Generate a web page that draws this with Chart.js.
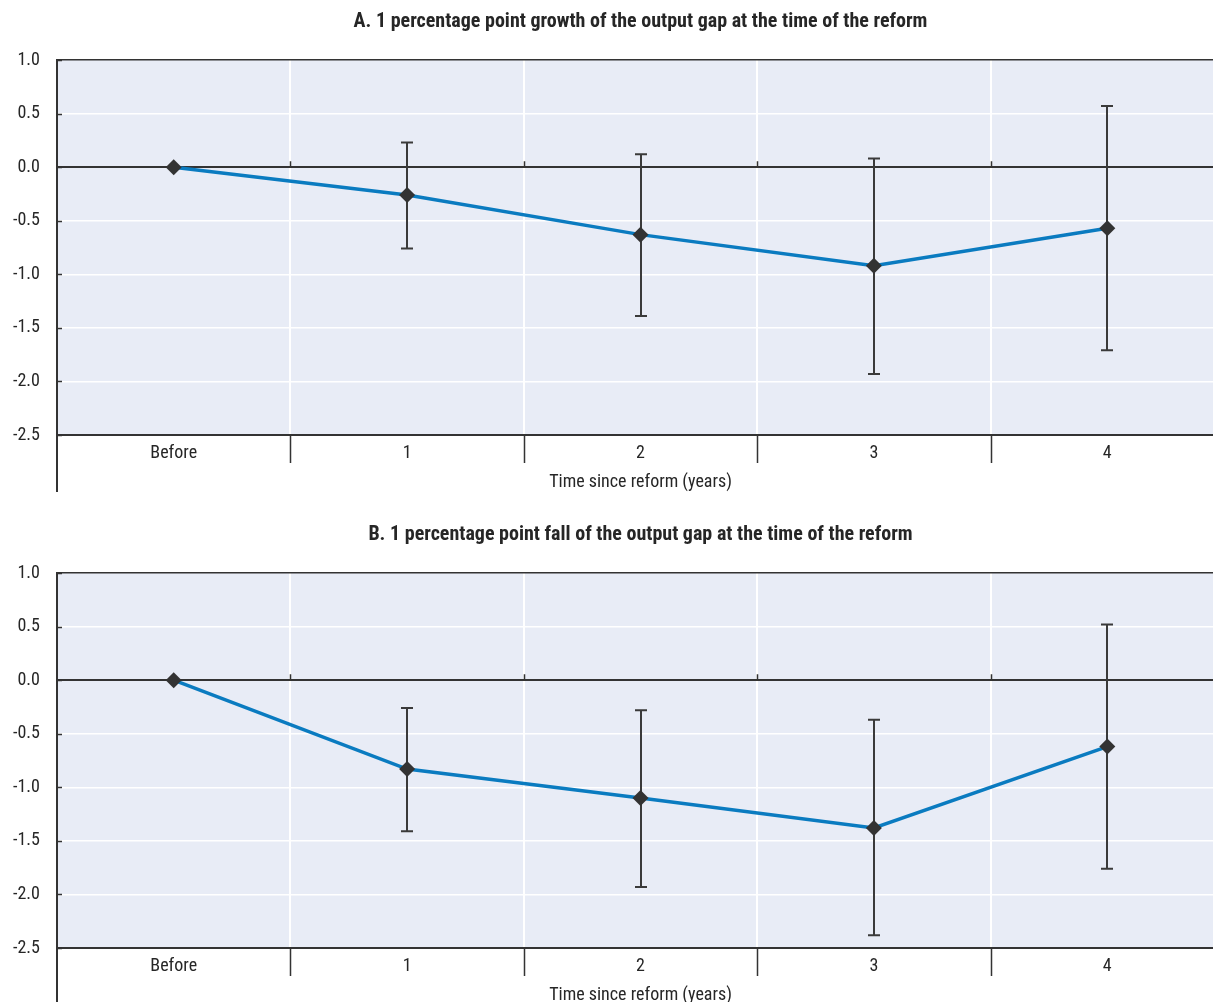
<!DOCTYPE html>
<html>
<head>
<meta charset="utf-8">
<title>Output gap response after reform</title>
<script src="https://cdn.jsdelivr.net/npm/chart.js@4/dist/chart.umd.min.js"></script>
<style>
  html, body { margin: 0; padding: 0; background: #ffffff; overflow: hidden; width: 1213px; height: 1002px; }
  canvas { position: absolute; left: 0; }
  #panelA { top: 0; }
  #panelB { top: 513px; }
</style>
</head>
<body>
<canvas id="panelA" width="1232" height="513"></canvas>
<canvas id="panelB" width="1232" height="513"></canvas>
<script>
// Horizon categories
const categories = ['Before', '1', '2', '3', '4'];
const yTickValues = [1.0, 0.5, 0.0, -0.5, -1.0, -1.5, -2.0, -2.5];
const axisTitle = 'Time since reform (years)';

// Panel A: growth of the output gap
const titleA = 'A. 1 percentage point growth of the output gap at the time of the reform';
const growthEstimate = [0.0, -0.26, -0.63, -0.92, -0.57];
const growthUpper    = [null, 0.23, 0.12, 0.08, 0.57];
const growthLower    = [null, -0.76, -1.39, -1.93, -1.71];

// Panel B: fall of the output gap
const titleB = 'B. 1 percentage point fall of the output gap at the time of the reform';
const fallEstimate = [0.0, -0.83, -1.10, -1.38, -0.62];
const fallUpper    = [null, -0.26, -0.28, -0.37, 0.52];
const fallLower    = [null, -1.41, -1.93, -2.38, -1.76];

const FONT = "'Roboto Condensed', 'DejaVu Sans Condensed', sans-serif";
const INK = '#333333';
const TEXT = '#262626';
const PLOT_BG = '#E8ECF6';
const LINE_BLUE = '#0A7BC0';

// Background, error bars, and the axis furniture Chart.js does not draw itself
const panelDecor = {
  id: 'panelDecor',
  beforeDraw(chart) {
    const { ctx, chartArea: a } = chart;
    ctx.save();
    ctx.fillStyle = PLOT_BG;
    ctx.fillRect(a.left, a.top, a.right - a.left, a.bottom - a.top);
    ctx.restore();
  },
  beforeDatasetsDraw(chart, args, opts) {
    const { ctx, chartArea: a } = chart;
    const xs = chart.scales.x, ys = chart.scales.y;
    const y0 = ys.getPixelForValue(0);
    ctx.save();
    ctx.strokeStyle = INK;
    ctx.lineCap = 'butt';

    // category separators below the axis and short ticks above the zero line
    ctx.lineWidth = 1.5;
    for (let i = 1; i < categories.length; i++) {
      const bx = Math.round(xs.getPixelForValue(i - 0.5)) + 0.5;
      ctx.beginPath();
      ctx.moveTo(bx, a.bottom);
      ctx.lineTo(bx, a.bottom + 28);
      ctx.moveTo(bx, y0 - 6);
      ctx.lineTo(bx, y0);
      ctx.stroke();
    }
    // left frame line continues down past the category labels
    ctx.lineWidth = 2;
    ctx.beginPath();
    ctx.moveTo(a.left, a.top);
    ctx.lineTo(a.left, a.bottom + 57);
    ctx.stroke();
    // small inside ticks on the value axis
    ctx.lineWidth = 1.5;
    yTickValues.forEach(v => {
      const py = Math.round(ys.getPixelForValue(v)) + 0.5;
      ctx.beginPath();
      ctx.moveTo(a.left, py);
      ctx.lineTo(a.left + 5, py);
      ctx.stroke();
    });

    // confidence intervals
    ctx.lineWidth = 2;
    ctx.strokeStyle = '#3A3A3A';
    opts.upper.forEach((hi, i) => {
      const lo = opts.lower[i];
      if (hi === null || lo === null) return;
      const px = Math.round(xs.getPixelForValue(i));
      const pTop = ys.getPixelForValue(hi);
      const pBot = ys.getPixelForValue(lo);
      ctx.beginPath();
      ctx.moveTo(px, pTop);
      ctx.lineTo(px, pBot);
      ctx.moveTo(px - 6, pTop);
      ctx.lineTo(px + 6, pTop);
      ctx.moveTo(px - 6, pBot);
      ctx.lineTo(px + 6, pBot);
      ctx.stroke();
    });
    ctx.restore();
  }
};

function buildPanel(canvasId, title, estimate, upper, lower) {
  return new Chart(document.getElementById(canvasId), {
    type: 'line',
    data: {
      labels: categories,
      datasets: [{
        data: estimate,
        borderColor: LINE_BLUE,
        borderWidth: 3.5,
        tension: 0,
        pointStyle: 'rectRot',
        pointRadius: 8,
        pointHoverRadius: 8,
        pointBackgroundColor: INK,
        pointBorderColor: INK,
        pointBorderWidth: 0
      }]
    },
    plugins: [panelDecor],
    options: {
      responsive: false,
      animation: false,
      devicePixelRatio: 1,
      layout: { padding: 0 },
      plugins: {
        legend: { display: false },
        tooltip: { enabled: false },
        title: {
          display: true,
          text: title,
          fullSize: false,
          color: TEXT,
          font: { family: FONT, size: 20, weight: 'bold', lineHeight: 1.2 },
          padding: { top: 10, bottom: 26 }
        },
        panelDecor: { upper: upper, lower: lower }
      },
      scales: {
        x: {
          type: 'category',
          offset: true,
          grid: { offset: true, color: '#ffffff', lineWidth: 2, drawTicks: false, z: -2 },
          border: { display: true, color: INK, width: 2 },
          ticks: { color: TEXT, font: { family: FONT, size: 18 }, padding: 8 },
          title: {
            display: true,
            text: axisTitle,
            color: TEXT,
            font: { family: FONT, size: 18, lineHeight: 1.2 },
            padding: { top: 4, bottom: 19.5 }
          },
          afterFit(scale) { scale.height = 78; }
        },
        y: {
          min: -2.5,
          max: 1.0,
          afterBuildTicks(scale) { scale.ticks = yTickValues.map(v => ({ value: v })); },
          grid: {
            drawTicks: false,
            z: -1,
            color: ctx => (ctx.tick && (ctx.tick.value === 0 || ctx.tick.value === 1)) ? INK : '#ffffff',
            lineWidth: ctx => (ctx.tick && ctx.tick.value === 0) ? 2 : 1.5
          },
          border: { display: true, color: INK, width: 2 },
          ticks: {
            color: TEXT,
            font: { family: FONT, size: 18 },
            padding: 17,
            callback: v => (Math.abs(v) < 1e-9 ? '0.0' : Number(v).toFixed(1))
          },
          afterFit(scale) { scale.width = 57; }
        }
      }
    }
  });
}

buildPanel('panelA', titleA, growthEstimate, growthUpper, growthLower);
buildPanel('panelB', titleB, fallEstimate, fallUpper, fallLower);
</script>
</body>
</html>
